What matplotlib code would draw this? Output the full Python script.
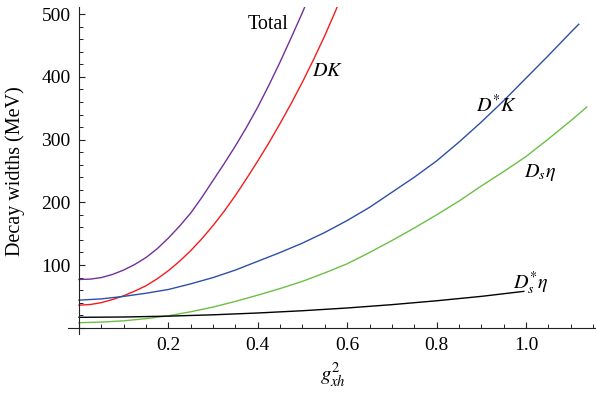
import numpy as np
import matplotlib
matplotlib.use('Agg')
import matplotlib.pyplot as plt
from matplotlib.ticker import MultipleLocator, FuncFormatter

plt.rcParams['font.family'] = ['Liberation Serif', 'DejaVu Serif']
plt.rcParams['mathtext.fontset'] = 'stix'

# values (x = g_xh^2, y = width in MeV)
x_total = [0, 0.025, 0.05, 0.075, 0.1, 0.125, 0.15, 0.175, 0.2, 0.225, 0.25, 0.275,
           0.3, 0.325, 0.35, 0.375, 0.4, 0.425, 0.45, 0.475, 0.5, 0.51]
y_total = [77, 77.5, 80, 85, 92, 101, 112, 126, 143, 162, 183, 208,
           235, 262, 290, 320, 352, 387, 424, 463, 503, 520]

x_dk = [0, 0.025, 0.05, 0.075, 0.1, 0.125, 0.15, 0.175, 0.2, 0.225, 0.25, 0.275,
        0.3, 0.325, 0.35, 0.375, 0.4, 0.425, 0.45, 0.475, 0.5, 0.525, 0.55, 0.575, 0.58]
y_dk = [36, 37, 40, 45, 51, 58.5, 67, 78, 91, 106, 123, 142,
        163, 186, 211, 238, 266, 295, 326, 358, 392, 428, 466, 507, 516]

x_dstk = [0, 0.05, 0.1, 0.15, 0.2, 0.25, 0.3, 0.35, 0.4, 0.45, 0.5, 0.55, 0.6, 0.65, 0.7,
          0.75, 0.8, 0.85, 0.9, 0.95, 1.0, 1.05, 1.1, 1.118]
y_dstk = [44, 46, 50, 55, 61, 70, 80, 92, 106, 120, 135, 152, 171, 192, 216,
          240, 266, 296, 328, 362, 398, 434, 471, 484]

x_dseta = [0, 0.05, 0.1, 0.15, 0.2, 0.25, 0.3, 0.35, 0.4, 0.45, 0.5, 0.55, 0.6, 0.65, 0.7,
           0.75, 0.8, 0.85, 0.9, 0.95, 1.0, 1.05, 1.1, 1.136]
y_dseta = [8, 9, 11, 14.5, 19, 25.5, 33, 42, 52, 62.5, 74, 87.5, 102, 120, 139,
           159, 180, 202, 226, 249, 273, 301, 330, 352]

x_dsteta = [0, 0.1, 0.2, 0.3, 0.4, 0.5, 0.6, 0.7, 0.8, 0.9, 0.995]
y_dsteta = [16.6, 17.1, 18.5, 20.6, 23.5, 27.1, 31.5, 36.8, 43, 50, 58]

series = [
    (x_total, y_total, '#71309A'),
    (x_dk, y_dk, '#F21C1C'),
    (x_dstk, y_dstk, '#2D4FA6'),
    (x_dseta, y_dseta, '#6CBF45'),
    (x_dsteta, y_dsteta, '#000000'),
]

labels = [
    ('Total', 0.423, 484),
    (r'$DK$', 0.557, 408),
    (r'$D^{*}K$', 0.935, 354),
    (r'$D_s\eta$', 1.031, 248),
    (r'$D_s^{*}\eta$', 1.011, 71),
]

fig = plt.figure(figsize=(5.96, 3.94), dpi=100)
ax = fig.add_axes([68 / 596, 60 / 394, 528 / 596, 327 / 394])

for xs, ys, c in series:
    ax.plot(xs, ys, color=c, linewidth=1.0)

for txt, lx, ly in labels:
    ax.text(lx, ly, txt, fontsize=14.5, ha='center', va='center')

ax.set_xlim(-0.0246, 1.1566)
ax.set_ylim(-10, 511.5)

# Mathematica-style axes crossing at origin
ax.spines['top'].set_visible(False)
ax.spines['right'].set_visible(False)
ax.spines['left'].set_position(('data', 0))
ax.spines['bottom'].set_position(('data', 0))
for s in ('left', 'bottom'):
    ax.spines[s].set_linewidth(0.8)
    ax.spines[s].set_color('#222222')

ax.xaxis.set_major_locator(MultipleLocator(0.2))
ax.xaxis.set_minor_locator(MultipleLocator(0.05))
ax.yaxis.set_major_locator(MultipleLocator(100))
ax.yaxis.set_minor_locator(MultipleLocator(20))
ax.xaxis.set_major_formatter(FuncFormatter(lambda v, p: '' if abs(v) < 1e-9 else f'{v:.1f}'))
ax.yaxis.set_major_formatter(FuncFormatter(lambda v, p: '' if abs(v) < 1e-9 else f'{v:.0f}'))

ax.tick_params(which='major', direction='in', length=4.5, width=0.8, color='#222222', labelsize=14)
ax.tick_params(which='minor', direction='in', length=2.6, width=0.7, color='#222222')
ax.tick_params(axis='x', which='major', pad=7)
ax.tick_params(axis='y', which='major', pad=6)

ax.set_xlabel(r'$g^2_{xh}$', fontsize=15)
ax.xaxis.set_label_coords(0.502, -0.085)
ax.xaxis.label.set_va('top')
ax.set_ylabel('Decay widths (MeV)', fontsize=14.5)
ax.yaxis.set_label_coords(-0.081, 0.498)

plt.savefig('out.png', dpi=100)
plt.close()
